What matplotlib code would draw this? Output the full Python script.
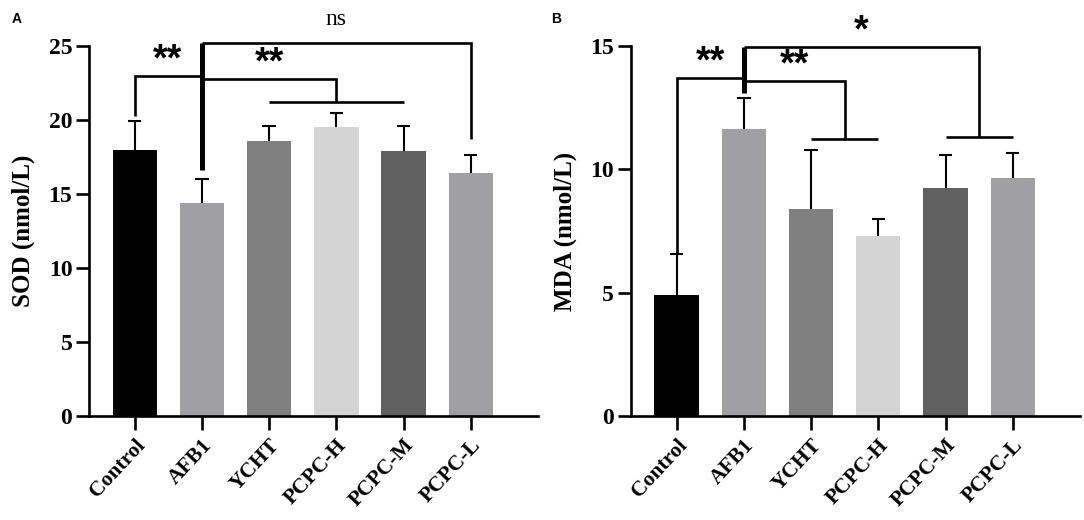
import matplotlib
matplotlib.use("Agg")
import matplotlib.pyplot as plt
import numpy as np

categories = ["Control", "AFB1", "YCHT", "PCPC-H", "PCPC-M", "PCPC-L"]
sod_mean = [18.0, 14.4, 18.6, 19.5, 17.9, 16.4]
sod_err = [1.95, 1.6, 1.0, 1.0, 1.7, 1.25]
mda_mean = [4.9, 11.65, 8.4, 7.3, 9.25, 9.65]
mda_err = [1.67, 1.25, 2.4, 0.7, 1.33, 1.0]
bar_colors = ["#000000", "#a0a0a4", "#808080", "#d4d4d4", "#606060", "#a0a0a4"]
sod_ticks = [0, 5, 10, 15, 20, 25]
mda_ticks = [0, 5, 10, 15]

SERIF = "Liberation Serif"
LW = 1.9

fig = plt.figure(figsize=(10.84, 5.2), dpi=100)
axA = fig.add_axes([0.0821, 0.2, 0.4142, 0.7115])
axB = fig.add_axes([0.582, 0.2, 0.4143, 0.7115])


def draw(ax, means, errs, ymax, ticks, ylabel):
    x = np.arange(len(categories))
    m = np.asarray(means)
    e = np.asarray(errs)
    ax.bar(x, m, width=0.66, color=bar_colors, zorder=2)
    ax.vlines(x, m, m + e, color="black", lw=1.5, zorder=1)
    ax.hlines(m + e, x - 0.1, x + 0.1, color="black", lw=1.5, zorder=1)
    ax.set_xlim(-0.68, 6.0)
    ax.set_ylim(0, ymax)
    ax.set_yticks(ticks)
    ax.set_yticklabels([str(t) for t in ticks], fontfamily=SERIF,
                       fontweight="bold", fontsize=17)
    ax.set_xticks(x)
    ax.set_xticklabels(categories, rotation=47, ha="right", rotation_mode="anchor",
                       fontfamily=SERIF, fontweight="bold", fontsize=15.5)
    ax.tick_params(axis="y", length=9.5, width=LW, pad=2.5)
    ax.tick_params(axis="x", length=10, width=LW, pad=4)
    for s in ("top", "right"):
        ax.spines[s].set_visible(False)
    for s in ("left", "bottom"):
        ax.spines[s].set_linewidth(LW)
    ax.set_ylabel(ylabel, fontfamily=SERIF, fontweight="bold", fontsize=18, labelpad=10)


def line(ax, xs, ys, lw=LW):
    ax.plot(xs, ys, color="black", lw=lw, clip_on=False, solid_capstyle="butt",
            solid_joinstyle="miter", zorder=3)


def stars(ax, x, y, s):
    ax.text(x, y, s, ha="center", va="center", fontsize=27, fontweight="bold",
            fontfamily="Liberation Sans", clip_on=False)


draw(axA, sod_mean, sod_err, 25, sod_ticks, "SOD (nmol/L)")
draw(axB, mda_mean, mda_err, 15, mda_ticks, "MDA (nmol/L)")

# Panel A annotations
line(axA, [0, 0, 1], [20.3, 22.95, 22.95])
line(axA, [1, 1], [16.6, 25.2], lw=3.6)
line(axA, [1, 5, 5], [25.2, 25.2, 18.7])
line(axA, [1, 3, 3], [22.75, 22.75, 21.2])
line(axA, [2, 4], [21.2, 21.2])
stars(axA, 0.48, 24.0, "**")
stars(axA, 2.0, 23.8, "**")
axA.text(3.0, 26.8, "ns", ha="center", va="center", fontsize=17,
         fontfamily=SERIF, clip_on=False)

# Panel B annotations
line(axB, [0, 0, 1], [6.6, 13.69, 13.69])
line(axB, [1, 1], [13.08, 14.97], lw=3.6)
line(axB, [1, 4.5, 4.5], [14.97, 14.97, 11.3])
line(axB, [4, 5], [11.3, 11.3])
line(axB, [1, 2.5, 2.5], [13.6, 13.6, 11.22])
line(axB, [2, 3], [11.22, 11.22])
stars(axB, 0.5, 14.35, "**")
stars(axB, 1.75, 14.2, "**")
stars(axB, 2.75, 15.6, "*")

fig.text(0.011, 0.955, "A", fontsize=10, fontweight="bold", fontfamily="Liberation Sans")
fig.text(0.508, 0.955, "B", fontsize=10, fontweight="bold", fontfamily="Liberation Sans")

fig.savefig("out.png", dpi=100)
